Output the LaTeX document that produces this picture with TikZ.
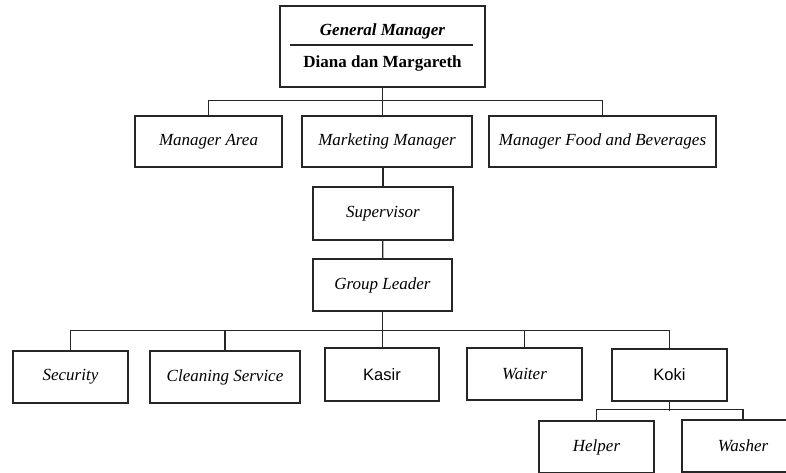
\documentclass[tikz,border=0pt]{standalone}
\usepackage{fontspec}
\setmainfont{Liberation Serif}
\newfontfamily\plainsans{Liberation Sans}
\usetikzlibrary{positioning}

\tikzset{
  box/.style={draw=black!85, line width=1.3pt, inner sep=0pt, minimum height=52pt,
    font=\fontsize{17}{20}\selectfont\itshape},
  plainbox/.style={box, font=\fontsize{16.5}{20}\selectfont\plainsans},
  link/.style={draw=black!85, line width=1.3pt}
}

\begin{document}
\begin{tikzpicture}[x=1pt,y=-1pt]
\useasboundingbox (0,0) rectangle (786,472);
\clip (0,0) rectangle (786,472);
% top
\node[box, minimum width=205pt, minimum height=81pt] (gm) at (382.5,46.5) {};
\node[font=\fontsize{17}{20}\selectfont\bfseries\itshape] (gmtitle) at (382.5,31) {General Manager};
\node[font=\fontsize{17}{20}\selectfont\bfseries] (gmname) at (382.5,63) {Diana dan Margareth};
\draw[link] (290,45) -- (473,45);
% managers
\node[box, minimum width=147pt, minimum height=51pt] (ma) at (208.5,141.5) {Manager Area};
\node[box, minimum width=170pt, minimum height=51pt] (mm) at (387,141.5) {Marketing Manager};
\node[box, minimum width=227pt, minimum height=51pt] (mfb) at (602.5,141.5) {Manager Food and Beverages};
\node[box, minimum width=140pt, minimum height=53pt] (sup) at (383,213.5) {Supervisor};
\node[box, minimum width=139pt] (gl) at (382.5,285) {Group Leader};
% staff
\node[box, minimum width=115pt] (sec) at (70.5,377) {Security};
\node[box, minimum width=150pt] (cls) at (225,377) {Cleaning Service};
\node[plainbox, minimum width=114pt, minimum height=53pt] (kasir) at (382,374.5) {Kasir};
\node[box, minimum width=115pt] (waiter) at (524.5,374) {Waiter};
\node[plainbox, minimum width=115pt] (koki) at (669.5,375) {Koki};
\node[box, minimum width=115pt] (helper) at (596.5,447) {Helper};
\node[box, minimum width=122pt] (washer) at (743,446) {Washer};
% connectors
\draw[link] (gm.south) -- (gm.south |- mm.north);
\draw[link] (ma.north) -- ++(0,-15) -| (mfb.north);
\draw[link] (sup.north |- mm.south) -- (sup.north);
\draw[link] (sup) -- (gl);
\draw[link] (gl.south) -- (gl.south |- kasir.north);
\draw[link] (sec.north) -- ++(0,-20) -| (koki.north);
\draw[link] (cls.north) -- ++(0,-20);
\draw[link] (waiter.north) -- ++(0,-17);
\draw[link] (koki.south) -- ++(0,9);
\draw[link] (helper.north) -- ++(0,-11) -| (washer.north);
\end{tikzpicture}
\end{document}
